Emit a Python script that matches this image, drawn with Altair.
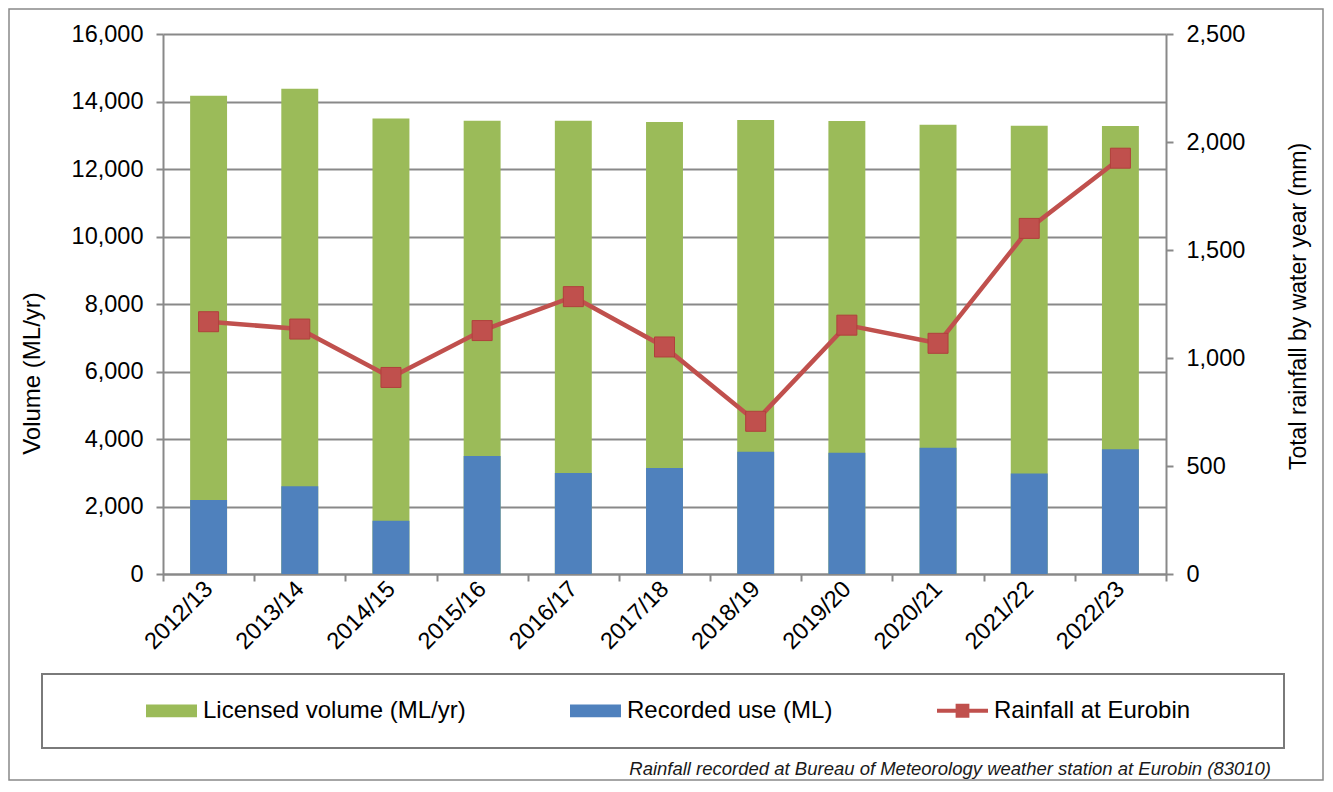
import altair as alt
import pandas as pd

# ---- data ----
years = ["2012/13", "2013/14", "2014/15", "2015/16", "2016/17", "2017/18",
         "2018/19", "2019/20", "2020/21", "2021/22", "2022/23"]
licensed = [14170, 14380, 13500, 13430, 13430, 13390, 13450, 13420, 13310, 13280, 13275]
recorded = [2190, 2600, 1580, 3500, 2990, 3140, 3620, 3590, 3740, 2980, 3700]
rainfall = [1168, 1134, 910, 1127, 1284, 1051, 707, 1152, 1068, 1600, 1925]

series_names = ["Licensed volume (ML/yr)", "Recorded use (ML)", "Rainfall at Eurobin"]
series_colors = ["#9BBB59", "#4F81BD", "#C0504D"]
left_ticks = [0, 2000, 4000, 6000, 8000, 10000, 12000, 14000, 16000]
right_ticks = [0, 500, 1000, 1500, 2000, 2500]
left_title = "Volume (ML/yr)"
right_title = "Total rainfall by water year (mm)"
footnote = "Rainfall recorded at Bureau of Meteorology weather station at Eurobin (83010)"

df = pd.DataFrame({"year": years, "licensed": licensed,
                   "recorded": recorded, "rainfall": rainfall})
blank = alt.Data(values=[{"k": 0}])

FONT = "Liberation Sans"
GRAY = "#898989"
RED = series_colors[2]
W, H = 1003, 540

x_enc = alt.X(
    "year:N", sort=years, title=None,
    scale=alt.Scale(paddingInner=0, paddingOuter=0),
    axis=alt.Axis(labelAngle=-45, labelAlign="right", labelBaseline="middle",
                  labelPadding=4, tickBand="extent", tickSize=7, tickWidth=2,
                  tickColor=GRAY, domainColor=GRAY, domainWidth=2,
                  labelFont=FONT, labelFontSize=23.5, labelColor="black",
                  grid=False),
)

left_scale = alt.Scale(domain=[0, 16000], nice=False)
left_axis = alt.Axis(
    values=left_ticks, format=",d", title=left_title, orient="left",
    titleAngle=270, titleX=-131, titleY=339, titleAlign="center",
    titleBaseline="middle", titleFont=FONT, titleFontSize=24,
    titleFontWeight="normal", titleColor="black",
    labelFont=FONT, labelFontSize=23.5, labelColor="black", labelPadding=13,
    tickSize=7, tickWidth=2, tickColor=GRAY, domainColor=GRAY, domainWidth=2,
    grid=True, gridColor=GRAY, gridWidth=2,
)

right_scale = alt.Scale(domain=[0, 2500], nice=False)
right_axis = alt.Axis(
    values=right_ticks, format=",d", title=right_title, orient="right",
    titleAngle=270, titleX=132, titleY=272, titleAlign="center",
    titleBaseline="middle", titleFont=FONT, titleFontSize=23,
    titleFontWeight="normal", titleColor="black",
    labelFont=FONT, labelFontSize=23.5, labelColor="black", labelPadding=13,
    tickSize=7, tickWidth=2, tickColor=GRAY, domainColor=GRAY, domainWidth=2,
    grid=False,
)

shape_expr = (
    "datum.value === '" + series_names[2] + "' ? "
    "'M-1,-0.075H-0.27V-0.27H0.27V-0.075H1V0.075H0.27V0.27H-0.27V0.075H-1Z' : "
    "'M-1,-0.25H1V0.25H-1Z'"
)
legend = alt.Legend(
    title=None, orient="none", legendX=-17, legendY=651, direction="horizontal",
    symbolSize=2601, symbolStrokeWidth=0, symbolType=alt.ExprRef(expr=shape_expr),
    labelFont=FONT, labelFontSize=24, labelLimit=500,
    labelColor="black", labelOffset=6, columnPadding=104, padding=0,
)
color_scale = alt.Scale(domain=series_names, range=series_colors)

# decorative outer frame and legend box
frame = alt.Chart(blank).mark_rect(fillOpacity=0, stroke=GRAY, strokeWidth=1.5).encode(
    x=alt.value(-154), x2=alt.value(1160), y=alt.value(-25), y2=alt.value(746))
legend_box = alt.Chart(blank).mark_rect(fillOpacity=0, stroke="#7a7a7a", strokeWidth=2).encode(
    x=alt.value(-121), x2=alt.value(1121), y=alt.value(640), y2=alt.value(714))
note = alt.Chart(blank).mark_text(
    align="right", baseline="middle", font=FONT, fontSize=18.5,
    fontStyle="italic", color="#1a1a1a").encode(
    x=alt.value(1108), y=alt.value(735), text=alt.value(footnote))

green = alt.Chart(df).transform_calculate(
    series="'" + series_names[0] + "'"
).mark_bar(width=alt.RelativeBandSize(0.405)).encode(
    x=x_enc,
    y=alt.Y("licensed:Q", scale=left_scale, axis=left_axis),
    color=alt.Color("series:N", scale=color_scale, legend=legend),
)
blue = alt.Chart(df).transform_calculate(
    series="'" + series_names[1] + "'"
).mark_bar(width=alt.RelativeBandSize(0.405)).encode(
    x=x_enc,
    y=alt.Y("recorded:Q", scale=left_scale, axis=left_axis),
    color=alt.Color("series:N", scale=color_scale, legend=legend),
)

line = alt.Chart(df).mark_line(color=RED, strokeWidth=4.5).encode(
    x=x_enc, y=alt.Y("rainfall:Q", scale=right_scale, axis=right_axis))
pts = alt.Chart(df).mark_square(size=400, filled=True, color=RED, opacity=1,
                                stroke="#B0403C", strokeWidth=1).encode(
    x=x_enc, y=alt.Y("rainfall:Q", scale=right_scale, axis=right_axis))

left = alt.layer(frame, legend_box, note, green, blue)
right = alt.layer(line, pts)

chart = alt.layer(left, right).resolve_scale(y="independent").properties(
    width=W, height=H, padding=0
).configure_view(stroke="transparent")

chart.save("out.html", embed_options={"renderer": "svg", "actions": False})
